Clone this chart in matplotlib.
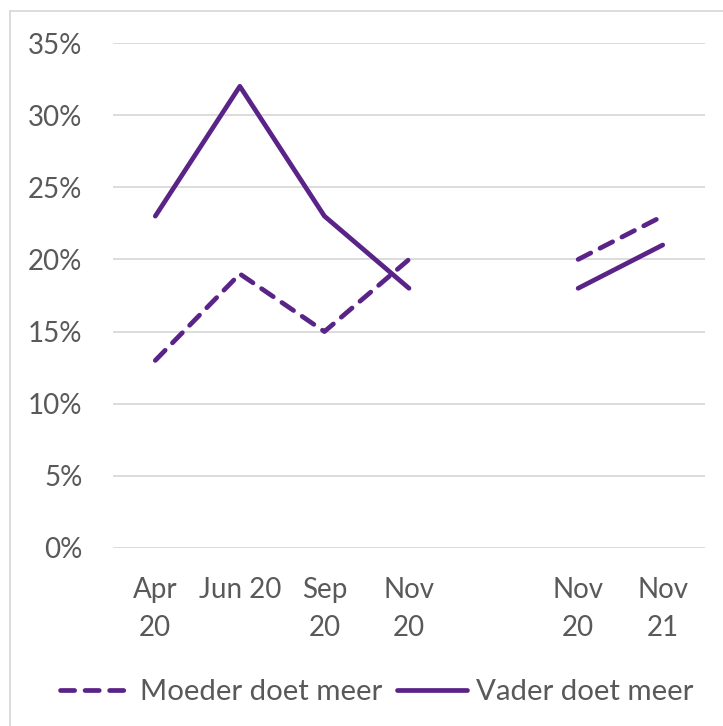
import numpy as np
import matplotlib
matplotlib.use('Agg')
import matplotlib.pyplot as plt
from matplotlib.patches import Rectangle

plt.rcParams['font.family'] = ['Lato', 'DejaVu Sans']

# gegevens
categorieen = ['Apr\n20', 'Jun 20', 'Sep\n20', 'Nov\n20', '', 'Nov\n20', 'Nov\n21']
moeder = [13, 19, 15, 20, np.nan, 20, 23]   # Moeder doet meer (%)
vader = [23, 32, 23, 18, np.nan, 18, 21]    # Vader doet meer (%)
yticks = [0, 5, 10, 15, 20, 25, 30, 35]

paars = '#5A2388'
grijs = '#595959'

fig = plt.figure(figsize=(7.23, 7.26), dpi=100)
ax = fig.add_axes([113/723, 1 - 548/726, 592/723, 505/726])

x = np.arange(len(categorieen))
m = np.array(moeder) / 100
v = np.array(vader) / 100

ax.plot(x, m, color=paars, lw=3.4, dashes=(3.0, 2.2), dash_capstyle='round',
        solid_capstyle='round', label='Moeder doet meer')
ax.plot(x, v, color=paars, lw=3.4, solid_capstyle='round', label='Vader doet meer')

ax.set_xlim(-0.5, len(categorieen) - 0.5)
ax.set_ylim(0, 0.35)
ax.set_yticks([t / 100 for t in yticks])
ax.set_yticklabels(['{}%'.format(t) for t in yticks])
ax.set_xticks(x)
ax.set_xticklabels(categorieen, linespacing=1.55)

ax.tick_params(axis='both', length=0, labelsize=20, labelcolor=grijs)
ax.tick_params(axis='y', pad=22)
ax.tick_params(axis='x', pad=21)
ax.grid(axis='y', color='#D9D9D9', lw=1.3)
ax.set_axisbelow(True)
for s in ax.spines.values():
    s.set_visible(False)

leg = fig.legend(loc='center', bbox_to_anchor=(377/723, 1 - 692/726), ncol=2,
                 frameon=False, fontsize=21.2, handlelength=2.4, handletextpad=0.3,
                 columnspacing=0.5, labelcolor=grijs)

# kader rond de grafiek
fig.patches.append(Rectangle((10/723, -0.1), 1.2, 1 - 11/726 + 0.1,
                             transform=fig.transFigure, fill=False,
                             edgecolor='#D9D9D9', lw=1.3))

plt.savefig('out.png', dpi=100)
